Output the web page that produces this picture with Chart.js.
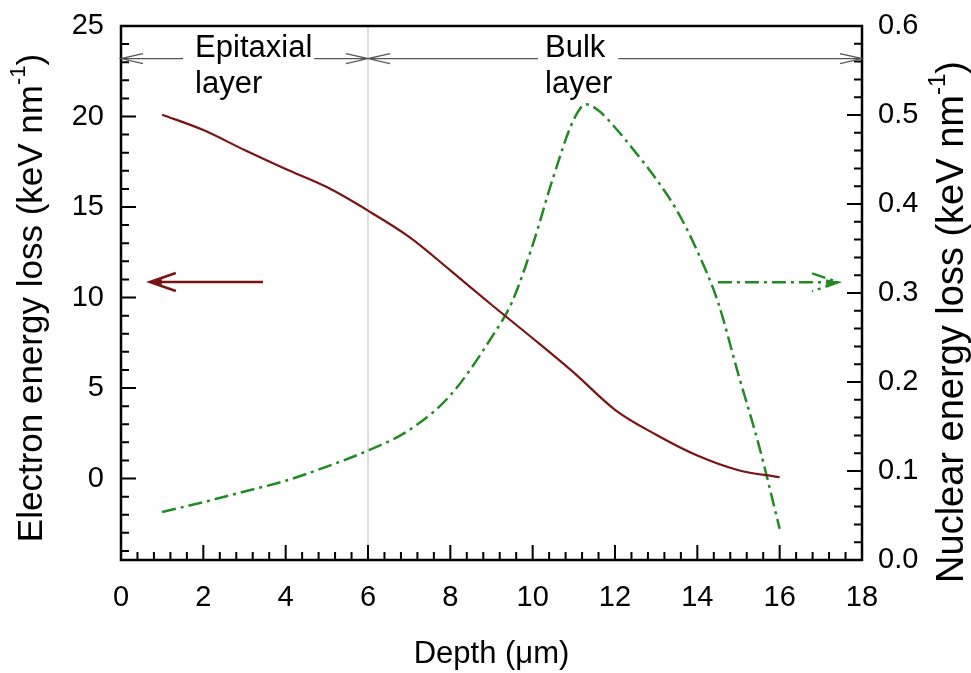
<!DOCTYPE html>
<html>
<head>
<meta charset="utf-8">
<script src="https://cdn.jsdelivr.net/npm/chart.js@4.4.0/dist/chart.umd.min.js"></script>
<style>
html, body { margin: 0; padding: 0; background: #fff; }
</style>
</head>
<body>
<canvas id="myChart" width="971" height="673"></canvas>
<script>
// depth (µm) and energy losses
const depth = [1, 2, 3, 4, 5, 6, 7, 8, 9, 10, 11, 12, 13, 14, 15, 16];
const electronLoss = [20.1, 19.25, 18.15, 17.1, 16.1, 14.8, 13.35, 11.5, 9.6, 7.75, 5.85, 3.8, 2.42, 1.27, 0.46, 0.07];

const nuclearDepth = [1, 2, 3, 4, 5, 6, 7, 8, 9, 9.5, 10, 10.5, 11, 11.3, 11.6, 12, 12.5, 13, 13.5, 14, 14.5, 15, 15.5, 16];
const nuclearLoss = [0.054, 0.065, 0.077, 0.089, 0.105, 0.123, 0.146, 0.185, 0.25, 0.29, 0.354, 0.43, 0.495, 0.512, 0.505, 0.486, 0.458, 0.428, 0.393, 0.347, 0.29, 0.208, 0.128, 0.035];

// layer boundary and annotation positions (data units)
const layerBoundary = 6;
const layerArrowY = 23.2;
const layerNames = [["Epitaxial", "layer"], ["Bulk", "layer"]];
const layerLabelX = [1.8, 10.3];
const electronArrow = [3.45, 0.7, 10.86];  // from x, to x, left-axis value
const nuclearArrow = [14.5, 17.42, 0.312]; // from x, to x, right-axis value

const FONT = "'Liberation Sans', Arial, sans-serif";
const RED = "#7a1414";
const GREEN = "#238a23";

function head(ctx, tx, ty, dir, len, half) {
    ctx.moveTo(tx - dir * len, ty - half);
    ctx.lineTo(tx, ty);
    ctx.lineTo(tx - dir * len, ty + half);
}

function verticalTitle(ctx, cx, cy, main, sup, tail, size) {
    ctx.save();
    ctx.translate(cx, cy);
    ctx.rotate(-Math.PI / 2);
    ctx.fillStyle = "#000";
    ctx.textBaseline = "middle";
    ctx.textAlign = "left";
    ctx.font = size + "px " + FONT;
    const w1 = ctx.measureText(main).width;
    const w3 = ctx.measureText(tail).width;
    ctx.font = Math.round(size * 0.62) + "px " + FONT;
    const w2 = ctx.measureText(sup).width;
    let x = -(w1 + w2 + w3) / 2;
    ctx.font = size + "px " + FONT;
    ctx.fillText(main, x, 0);
    x += w1;
    ctx.font = Math.round(size * 0.62) + "px " + FONT;
    ctx.fillText(sup, x, -size * 0.38);
    x += w2;
    ctx.font = size + "px " + FONT;
    ctx.fillText(tail, x, 0);
    ctx.restore();
}

function noOverhang(s) {
    s.paddingTop = 0;
    s.paddingBottom = 0;
    s.paddingLeft = 0;
    s.paddingRight = 0;
}

const decorations = {
    id: "decorations",
    beforeDatasetsDraw(chart) {
        const { ctx, chartArea: a, scales } = chart;
        const bx = scales.x.getPixelForValue(layerBoundary);
        ctx.save();
        ctx.strokeStyle = "#bdbdbd";
        ctx.lineWidth = 1;
        ctx.beginPath();
        ctx.moveTo(bx, a.top);
        ctx.lineTo(bx, a.bottom);
        ctx.stroke();
        ctx.restore();
    },
    afterDatasetsDraw(chart) {
        const { ctx, chartArea: a, scales } = chart;
        const x = scales.x, y = scales.y, y2 = scales.y2;
        ctx.save();

        // inward tick marks
        ctx.strokeStyle = "#000";
        ctx.lineWidth = 2;
        ctx.beginPath();
        for (let i = 0; i <= 45; i++) {
            const px = x.getPixelForValue(i * 0.4);
            const len = i % 5 === 0 ? 15 : 8;
            ctx.moveTo(px, a.bottom);
            ctx.lineTo(px, a.bottom - len);
        }
        for (let v = -4; v <= 25; v++) {
            const py = y.getPixelForValue(v);
            const len = v % 5 === 0 ? 15 : 8;
            ctx.moveTo(a.left, py);
            ctx.lineTo(a.left + len, py);
        }
        for (let i = 0; i <= 30; i++) {
            const py = y2.getPixelForValue(i * 0.02);
            const len = i % 5 === 0 ? 15 : 8;
            ctx.moveTo(a.right, py);
            ctx.lineTo(a.right - len, py);
        }
        ctx.stroke();

        // frame
        ctx.lineWidth = 2.5;
        ctx.strokeRect(a.left, a.top, a.right - a.left, a.bottom - a.top);

        // layer arrows
        const ay = y.getPixelForValue(layerArrowY);
        const bx = x.getPixelForValue(layerBoundary);
        ctx.strokeStyle = "#555";
        ctx.lineWidth = 1.2;
        ctx.beginPath();
        ctx.moveTo(a.left, ay);
        ctx.lineTo(a.right, ay);
        head(ctx, a.left, ay, -1, 22, 5);
        head(ctx, bx, ay, 1, 22, 5);
        head(ctx, bx, ay, -1, 22, 5);
        head(ctx, a.right, ay, 1, 22, 5);
        ctx.stroke();

        const gaps = [[12, 2], [7, 13]];
        ctx.font = "31px " + FONT;
        ctx.textAlign = "left";
        ctx.textBaseline = "alphabetic";
        layerNames.forEach((lines, k) => {
            const lx = x.getPixelForValue(layerLabelX[k]);
            const w = ctx.measureText(lines[0]).width;
            ctx.fillStyle = "#fff";
            ctx.fillRect(lx - gaps[k][0], ay - 3, w + gaps[k][0] + gaps[k][1], 6);
            ctx.fillStyle = "#000";
            ctx.fillText(lines[0], lx, ay - 2);
            ctx.fillText(lines[1], lx, ay + 34);
        });

        // electron arrow (points to left axis)
        const ey = y.getPixelForValue(electronArrow[2]);
        const ex0 = x.getPixelForValue(electronArrow[0]);
        const ex1 = x.getPixelForValue(electronArrow[1]);
        ctx.strokeStyle = RED;
        ctx.fillStyle = RED;
        ctx.lineWidth = 2.5;
        ctx.beginPath();
        ctx.moveTo(ex0, ey);
        ctx.lineTo(ex1, ey);
        head(ctx, ex1, ey, -1, 26, 9);
        ctx.stroke();
        ctx.beginPath();
        ctx.moveTo(ex1, ey);
        ctx.lineTo(ex1 + 12, ey - 3);
        ctx.lineTo(ex1 + 12, ey + 3);
        ctx.closePath();
        ctx.fill();

        // nuclear arrow (points to right axis)
        const ny = y2.getPixelForValue(nuclearArrow[2]);
        const nx0 = x.getPixelForValue(nuclearArrow[0]);
        const nx1 = x.getPixelForValue(nuclearArrow[1]);
        ctx.strokeStyle = GREEN;
        ctx.fillStyle = GREEN;
        ctx.lineWidth = 2.5;
        ctx.setLineDash([14, 5, 3, 5]);
        ctx.beginPath();
        ctx.moveTo(nx0, ny);
        ctx.lineTo(nx1, ny);
        head(ctx, nx1, ny, 1, 26, 9);
        ctx.stroke();
        ctx.setLineDash([]);
        ctx.beginPath();
        ctx.moveTo(nx1, ny);
        ctx.lineTo(nx1 - 12, ny - 3);
        ctx.lineTo(nx1 - 12, ny + 3);
        ctx.closePath();
        ctx.fill();

        ctx.restore();

        // y-axis titles
        verticalTitle(ctx, 32, 298, "Electron energy loss (keV nm", "-1", ")", 35);
        verticalTitle(ctx, 953, 322, "Nuclear energy loss (keV nm", "-1", ")", 38);
    }
};

const ctx = document.getElementById("myChart").getContext("2d");

new Chart(ctx, {
    type: "line",
    data: {
        datasets: [{
            label: "Electron energy loss",
            data: depth.map((d, i) => ({ x: d, y: electronLoss[i] })),
            yAxisID: "y",
            borderColor: RED,
            borderWidth: 2.2,
            pointRadius: 0,
            cubicInterpolationMode: "monotone",
            fill: false
        }, {
            label: "Nuclear energy loss",
            data: nuclearDepth.map((d, i) => ({ x: d, y: nuclearLoss[i] })),
            yAxisID: "y2",
            borderColor: GREEN,
            borderWidth: 2.5,
            borderDash: [14, 5, 3, 5],
            pointRadius: 0,
            cubicInterpolationMode: "monotone",
            fill: false
        }]
    },
    options: {
        responsive: false,
        animation: false,
        layout: { padding: { top: 26, left: 0, right: 0, bottom: 0 } },
        plugins: {
            legend: { display: false },
            tooltip: { enabled: false }
        },
        scales: {
            x: {
                type: "linear",
                position: "bottom",
                min: 0,
                max: 18,
                grid: { display: false, drawTicks: false },
                border: { display: false },
                ticks: { stepSize: 2, padding: 21, color: "#000", font: { size: 29, family: FONT } },
                title: {
                    display: true,
                    text: "Depth (\u03bcm)",
                    color: "#000",
                    font: { size: 31, family: FONT, lineHeight: 1 },
                    padding: { top: 0, bottom: 3 }
                },
                afterFit(s) { s.height = 113; noOverhang(s); }
            },
            y: {
                type: "linear",
                position: "left",
                min: -4.5,
                max: 25,
                grid: { display: false, drawTicks: false },
                border: { display: false },
                ticks: { stepSize: 5, padding: 17, color: "#000", font: { size: 29, family: FONT } },
                afterBuildTicks(s) { s.ticks = s.ticks.filter(t => t.value >= 0 && t.value % 5 === 0); },
                afterFit(s) { s.width = 121; noOverhang(s); }
            },
            y2: {
                type: "linear",
                position: "right",
                min: 0,
                max: 0.6,
                grid: { display: false, drawTicks: false },
                border: { display: false },
                ticks: {
                    stepSize: 0.1,
                    padding: 16,
                    color: "#000",
                    font: { size: 29, family: FONT },
                    callback: v => v.toFixed(1)
                },
                afterFit(s) { s.width = 109; noOverhang(s); }
            }
        }
    },
    plugins: [decorations]
});
</script>
</body>
</html>
